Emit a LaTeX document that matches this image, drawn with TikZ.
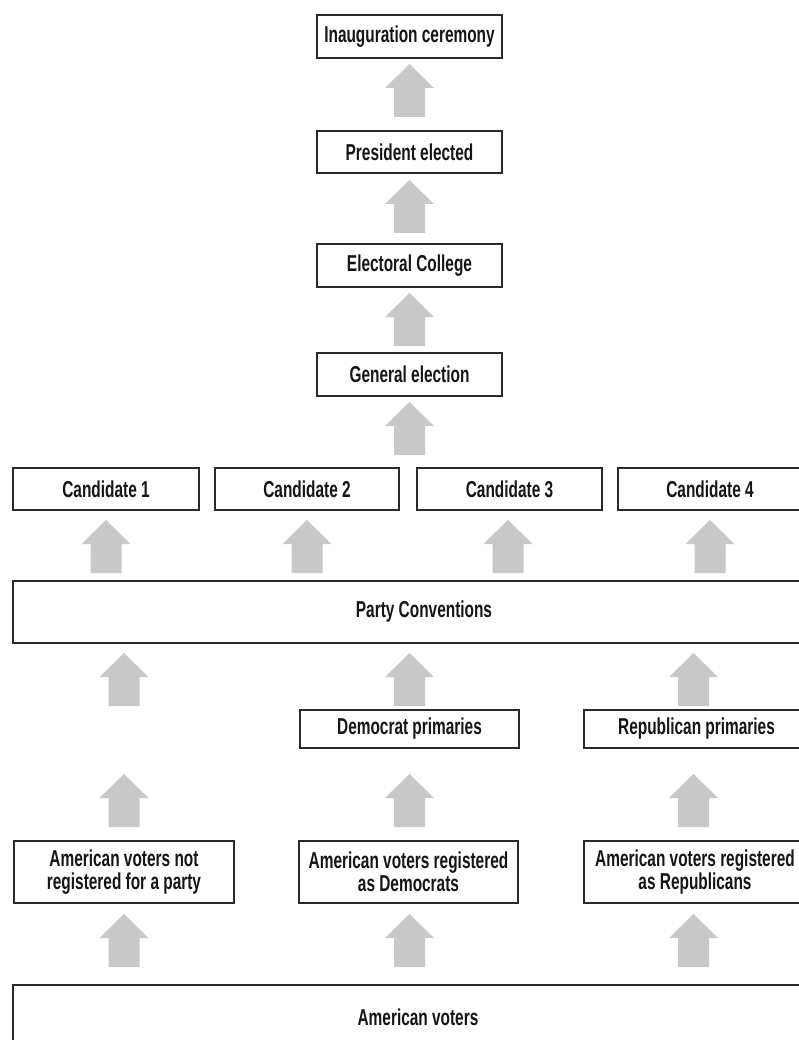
\documentclass[tikz,border=0pt]{standalone}
\usepackage{fontspec}
\newfontfamily\lab{Liberation Sans}[FakeStretch=0.67]
\definecolor{arrowgray}{HTML}{C8C8C8}
\definecolor{boxline}{HTML}{2A2A2A}
\definecolor{txt}{HTML}{151515}
\begin{document}
\begin{tikzpicture}[x=1pt,y=-1pt,
  box/.style={draw=boxline, line width=1.5pt, fill=white, inner sep=0pt, align=center,
    text=txt, font=\lab\bfseries\fontsize{23}{23.5}\selectfont},
  uparrow/.pic={\fill[arrowgray] (-15.5,53) -- (-15.5,24) -- (-24.5,24) -- (0,0) -- (24.5,24) -- (15.5,24) -- (15.5,53) -- cycle;}
]
\useasboundingbox[fill=white] (0,0) rectangle (799,1040);
% central column
\node[box, minimum width=185pt, minimum height=43pt] (inaug) at (409.5,36.5) {Inauguration ceremony};
\node[box, minimum width=185pt, minimum height=42pt] (pres) at (409.5,152) {President elected};
\node[box, minimum width=185pt, minimum height=43pt] (elect) at (409.5,265.5) {Electoral College};
\node[box, minimum width=185pt, minimum height=43pt] (gen) at (409.5,374.5) {General election};
% candidates
\node[box, minimum width=186pt, minimum height=42pt] (c1) at (106,489) {Candidate 1};
\node[box, minimum width=184pt, minimum height=42pt] (c2) at (307,489) {Candidate 2};
\node[box, minimum width=185pt, minimum height=42pt] (c3) at (509.5,489) {Candidate 3};
\node[box, minimum width=184pt, minimum height=42pt] (c4) at (710,489) {Candidate 4};
% conventions
\node[box, minimum width=822pt, minimum height=62pt] (party) at (424,612) {Party Conventions};
% primaries
\node[box, minimum width=219pt, minimum height=38pt] (dem) at (409.5,729) {Democrat primaries};
\node[box, minimum width=225pt, minimum height=38pt] (rep) at (696.5,729) {Republican primaries};
% voter groups
\node[box, minimum width=220pt, minimum height=62pt] (v1) at (124,872) {American voters not\\registered for a party};
\node[box, minimum width=219pt, minimum height=62pt] (v2) at (408.5,872) {American voters registered\\as Democrats};
\node[box, minimum width=222pt, minimum height=62pt] (v3) at (695,872) {American voters registered\\as Republicans};
% all voters
\node[box, minimum width=810pt, minimum height=65pt] (av) at (418,1017.5) {American voters};
% arrows central column
\pic at (409.5,64) {uparrow};
\pic at (409.5,180) {uparrow};
\pic at (409.5,293) {uparrow};
\pic at (409.5,402) {uparrow};
% arrows to candidates
\pic at (106,520) {uparrow};
\pic at (307,520) {uparrow};
\pic at (508,520) {uparrow};
\pic at (710,520) {uparrow};
% arrows to conventions
\pic at (124,653) {uparrow};
\pic at (409.5,653) {uparrow};
\pic at (693.5,653) {uparrow};
% arrows to primaries
\pic at (124,774) {uparrow};
\pic at (409.5,774) {uparrow};
\pic at (693.5,774) {uparrow};
% arrows from all voters
\pic at (124,914) {uparrow};
\pic at (409.5,914) {uparrow};
\pic at (693.5,914) {uparrow};
\end{tikzpicture}
\end{document}
